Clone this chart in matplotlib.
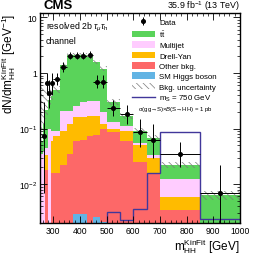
import numpy as np
import matplotlib
matplotlib.use("Agg")
import matplotlib.pyplot as plt
from matplotlib.patches import Patch
from matplotlib.lines import Line2D
from matplotlib.ticker import FixedLocator, MultipleLocator, LogLocator, NullFormatter

plt.rcParams['font.family'] = ['Liberation Sans', 'DejaVu Sans']
plt.rcParams['mathtext.fontset'] = 'custom'
plt.rcParams['mathtext.rm'] = 'Liberation Sans'
plt.rcParams['mathtext.it'] = 'Liberation Sans:italic'
plt.rcParams['mathtext.bf'] = 'Liberation Sans:bold'
plt.rcParams['hatch.linewidth'] = 0.5

# bin edges of m_HH^KinFit [GeV]
edges = [250, 260, 270, 280, 290, 300, 325, 350, 375, 400, 425, 450, 475, 500,
         550, 600, 650, 700, 850, 1000]

# background densities [1/GeV], stacked bottom to top
higgs = [0.0002, 0.0002, 0.0003, 0.0003, 0.0004, 0.0005, 0.0008, 0.0012, 0.0029, 0.0029,
         0.0015, 0.0026, 0.0021, 0.0012, 0.0008, 0.0005, 0.0004, 0.0002, 0.0001]
other = [0.0013, 0.0013, 0.0177, 0.0012, 0.0152, 0.0151, 0.0212, 0.0338, 0.0571, 0.0591,
         0.0735, 0.0754, 0.0979, 0.0838, 0.0592, 0.0245, 0.0156, 0.0032, 0.0011]
dy = [0.0005, 0.0005, 0.015, 0.0005, 0.044, 0.059, 0.07, 0.085, 0.1, 0.098,
      0.095, 0.092, 0.02, 0.015, 0.03, 0.025, 0.014, 0.0025, 0.0002]
multijet = [0.033, 0.038, 0.012, 0.098, 0.03, 0.015, 0.118, 0.09, 0.1, 0.14,
            0.14, 0.14, 0.08, 0.03, 0.02, 0.005, 0.004, 0.0066, 0.0002]
ttbar = [0.025, 0.08, 0.175, 0.22, 0.29, 0.41, 1.19, 1.89, 1.84, 1.8,
         1.59, 1.29, 1.0, 0.17, 0.06, 0.035, 0.034, 0.0098, 0.0047]
# background uncertainty band, up and down [1/GeV]
bkg_unc_up = [0.6, 0.5, 0.3, 0.2, 0.17, 0.08, 0.12, 0.16, 0.15, 0.15,
              0.14, 0.13, 0.11, 0.035, 0.02, 0.011, 0.008, 0.003, 0.0012]
bkg_unc_dn = [0.02, 0.04, 0.07, 0.08, 0.09, 0.06, 0.12, 0.16, 0.15, 0.15,
              0.14, 0.13, 0.11, 0.035, 0.02, 0.011, 0.008, 0.003, 0.0012]

signal = [0.001, 0.001, 0.001, 0.001, 0.001, 0.001, 0.001, 0.001, 0.001, 0.001,
          0.001, 0.001, 0.001, 0.0032, 0.0023, 0.0036, 0.016, 0.087, 0.0024]

data = [np.nan, 0.073, 0.65, 0.43, 0.65, 0.77, 1.28, 2.05, 2.05, 2.05,
        2.13, 0.70, 0.70, 0.235, 0.18, 0.086, 0.0635, 0.035, 0.0069]

edges = np.array(edges, dtype=float)
widths = np.diff(edges)
centers = 0.5 * (edges[1:] + edges[:-1])

fig = plt.figure(figsize=(2.66, 2.55), dpi=100)
ax = fig.add_axes([40 / 266, 1 - 224 / 255, 200 / 266, 210 / 255])
ax.set_yscale('log')

components = [
    (higgs, '#62b4e4', 'SM Higgs boson'),
    (other, '#fd6868', 'Other bkg.'),
    (dy, '#ffbb00', 'Drell-Yan'),
    (multijet, '#ffccff', 'Multijet'),
    (ttbar, '#5ad35a', r'$\mathrm{t\bar{t}}$'),
]
base = np.full(len(centers), 1e-5)
handles = {}
for vals, col, lab in components:
    top = base + np.array(vals)
    ax.stairs(top, edges, baseline=base, fill=True, color=col, lw=0)
    handles[lab] = Patch(facecolor=col, edgecolor='none')
    base = top
total = base

ax.stairs(total + np.array(bkg_unc_up), edges,
          baseline=np.clip(total - np.array(bkg_unc_dn), 1e-5, None), fill=True,
          facecolor='none', edgecolor='#7a7a7a', hatch='\\\\\\\\\\', lw=0)

ax.stairs(signal, edges, baseline=1e-5, color='#41379a', lw=1.0)

# Poisson intervals (Gehrels approximation) on event counts
data = np.array(data)
counts = data * widths
hi = (counts + np.sqrt(counts + 0.75) + 1) / widths - data
lo = data - counts * (1 - 1 / (9 * counts) - 1 / (3 * np.sqrt(counts))) ** 3 / widths
lo = np.minimum(lo, data - 1e-5)
ax.errorbar(centers, data, yerr=[lo, hi], xerr=widths / 2, fmt='o', color='black',
            ms=2.6, lw=0.7, capsize=0)
# legend entry for data: marker with vertical bar only
data_key = ax.errorbar([np.nan], [np.nan], yerr=[1.0], fmt='o', color='black',
                       ms=2.6, lw=0.7, capsize=0)

ax.set_xlim(250, 1000)
ax.set_ylim(2e-3, 12)

ax.xaxis.set_minor_locator(MultipleLocator(20))
ax.set_xticks([300, 400, 500, 600, 700, 800, 900, 1000])
ax.yaxis.set_major_locator(FixedLocator([1e-2, 1e-1, 1, 10]))
ax.set_yticklabels(['10$^{-2}$', '10$^{-1}$', '1', '10'])
ax.yaxis.set_minor_locator(LogLocator(base=10, subs=np.arange(2, 10)))
ax.yaxis.set_minor_formatter(NullFormatter())
ax.tick_params(which='both', direction='in', top=True, right=True, labelsize=6.2, pad=2)
ax.tick_params(which='major', length=5, width=0.6)
ax.tick_params(which='minor', length=2.5, width=0.5)
for sp in ax.spines.values():
    sp.set_linewidth(1.0)

ax.set_xlabel(r'$\mathrm{m}_{\mathrm{HH}}^{\mathrm{KinFit}}$ [GeV]', fontsize=8.5, loc='right', labelpad=1)
ax.set_ylabel(r'$\mathrm{dN/dm}_{\mathrm{HH}}^{\mathrm{KinFit}}$ [GeV$^{-1}$]', fontsize=8.5,
              loc='top', labelpad=1)

fig.text(44 / 266, 1 - 6 / 255, 'CMS', fontsize=9.5, fontweight='bold', va='center', ha='left')
fig.text(240 / 266, 1 - 6 / 255, r'35.9 fb$^{-1}$ (13 TeV)', fontsize=6.4, va='center', ha='right')
ax.text(0.03, 0.965, r'resolved 2b $\tau_{\mu}\tau_{\mathrm{h}}$' + '\nchannel', transform=ax.transAxes,
        fontsize=6.3, va='top', ha='left', linespacing=1.35)

leg_handles = [data_key, handles[r'$\mathrm{t\bar{t}}$'], handles['Multijet'], handles['Drell-Yan'],
               handles['Other bkg.'], handles['SM Higgs boson'],
               Patch(facecolor='white', edgecolor='#7a7a7a', hatch='\\\\\\\\\\', lw=0),
               Line2D([], [], color='#41379a', lw=1.0)]
leg_labels = ['Data', r'$\mathrm{t\bar{t}}$', 'Multijet', 'Drell-Yan', 'Other bkg.', 'SM Higgs boson',
              'Bkg. uncertainty', r'm$_{\mathrm{S}}$ = 750 GeV']
ax.legend(leg_handles, leg_labels, loc='upper left', bbox_to_anchor=(132 / 266, 1 - 19 / 255),
          bbox_transform=fig.transFigure, frameon=False, fontsize=5.7, handlelength=2.9,
          handleheight=0.9, handletextpad=0.5, labelspacing=0.3, borderpad=0, borderaxespad=0)
fig.text(138 / 266, 1 - 109 / 255, r'σ(gg→S)×$\it{B}$(S→HH) = 1 pb', fontsize=4.3, va='center', ha='left')

fig.savefig('out.png', dpi=100)
